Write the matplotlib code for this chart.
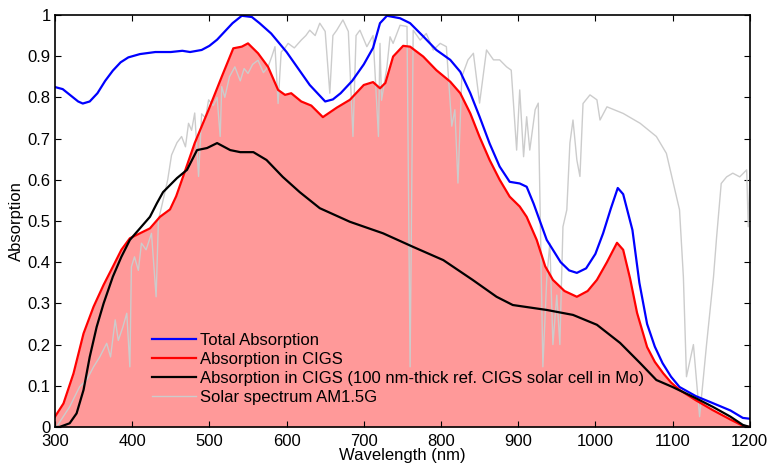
import numpy as np
import matplotlib.pyplot as plt

plt.rcParams['font.family'] = ['Liberation Sans', 'DejaVu Sans']

# Total absorption (blue)
wl_total = [300, 310, 320, 330, 336, 345, 355, 365, 375, 385, 395, 410, 430, 450, 465,
            475, 490, 500, 510, 520, 530, 542, 555, 565, 580, 600, 615, 630, 640, 650,
            660, 670, 685, 700, 712, 721, 730, 747, 760, 777, 794, 812, 825, 838, 850,
            863, 876, 889, 902, 911, 920, 937, 955, 966, 976, 988, 1000, 1010, 1020,
            1029, 1036, 1048, 1057, 1067, 1077, 1087, 1098, 1109, 1130, 1152, 1175,
            1191, 1200]
a_total = [0.825, 0.82, 0.805, 0.79, 0.785, 0.79, 0.81, 0.84, 0.865, 0.885, 0.897,
           0.905, 0.91, 0.91, 0.913, 0.91, 0.915, 0.925, 0.94, 0.96, 0.98, 0.998, 0.995,
           0.98, 0.955, 0.91, 0.87, 0.83, 0.81, 0.79, 0.795, 0.81, 0.84, 0.88, 0.92,
           0.98, 0.998, 0.992, 0.98, 0.948, 0.915, 0.891, 0.862, 0.81, 0.753, 0.688,
           0.632, 0.595, 0.591, 0.583, 0.542, 0.454, 0.40, 0.38, 0.374, 0.385, 0.42,
           0.47, 0.53, 0.58, 0.565, 0.478, 0.35, 0.25, 0.195, 0.155, 0.122, 0.097,
           0.075, 0.058, 0.04, 0.022, 0.02]

# Absorption in CIGS (red, filled)
wl_cigs = [300, 311, 324, 337, 350, 363, 375, 386, 397, 410, 423, 436, 449, 457, 466,
           481, 499, 516, 531, 542, 550, 563, 576, 589, 598, 606, 619, 632, 647, 665,
           682, 700, 712, 721, 728, 738, 751, 760, 777, 794, 812, 825, 838, 850, 863,
           876, 889, 902, 911, 924, 935, 945, 960, 976, 990, 1002, 1015, 1028, 1036,
           1045, 1054, 1067, 1077, 1088, 1098, 1109, 1130, 1152, 1175, 1191, 1200]
a_cigs = [0.025, 0.057, 0.13, 0.227, 0.292, 0.345, 0.389, 0.43, 0.458, 0.47, 0.482,
          0.51, 0.528, 0.56, 0.608, 0.689, 0.77, 0.85, 0.919, 0.923, 0.931, 0.907, 0.874,
          0.818, 0.806, 0.81, 0.79, 0.78, 0.752, 0.775, 0.794, 0.83, 0.837, 0.822, 0.835,
          0.899, 0.925, 0.923, 0.899, 0.866, 0.838, 0.81, 0.761, 0.704, 0.648, 0.6,
          0.559, 0.535, 0.51, 0.454, 0.39, 0.357, 0.33, 0.316, 0.33, 0.357, 0.40, 0.447,
          0.43, 0.36, 0.277, 0.194, 0.158, 0.13, 0.108, 0.09, 0.065, 0.041, 0.018, 0.003,
          0.0]

# Absorption in reference CIGS cell (black)
wl_ref = [300, 306, 319, 328, 337, 345, 354, 363, 375, 386, 397, 410, 423, 432, 440,
          458, 471, 484, 497, 510, 527, 540, 557, 574, 595, 617, 643, 682, 725, 764,
          803, 841, 872, 893, 937, 971, 1002, 1032, 1058, 1079, 1100, 1130, 1152, 1175,
          1191, 1200]
a_ref = [0.0, 0.0, 0.009, 0.033, 0.09, 0.17, 0.243, 0.30, 0.365, 0.413, 0.454, 0.482,
         0.51, 0.543, 0.57, 0.604, 0.624, 0.672, 0.677, 0.689, 0.672, 0.667, 0.667,
         0.648, 0.607, 0.57, 0.531, 0.498, 0.47, 0.437, 0.405, 0.357, 0.316, 0.296,
         0.284, 0.272, 0.248, 0.204, 0.155, 0.114, 0.097, 0.07, 0.049, 0.025, 0.005, 0.0]

# Solar spectrum AM1.5G (normalised, gray)
wl_sun = [300, 302, 319, 332, 341, 350, 358, 367, 372, 378, 382, 388, 393, 397, 399,
          403, 408, 412, 418, 425, 431, 434, 440, 446, 451, 458, 464, 469, 473, 477,
          481, 486, 490, 495, 499, 505, 510, 514, 516, 520, 526, 533, 540, 545, 550,
          556, 563, 570, 576, 581, 585, 589, 593, 598, 602, 610, 619, 625, 630, 637,
          643, 650, 656, 660, 665, 673, 680, 686, 690, 695, 704, 712, 719, 721, 723,
          730, 734, 738, 747, 756, 760, 764, 773, 781, 790, 799, 807, 814, 818, 822,
          827, 835, 842, 850, 859, 868, 876, 885, 891, 898, 902, 907, 911, 915, 922,
          926, 932, 937, 941, 945, 950, 954, 958, 963, 967, 971, 976, 980, 984, 993,
          1002, 1006, 1015, 1036, 1058, 1079, 1092, 1101, 1109, 1114, 1118, 1127, 1135,
          1144, 1153, 1157, 1163, 1170, 1178, 1187, 1196, 1198, 1200]
a_sun = [0.0, 0.0, 0.049, 0.098, 0.114, 0.146, 0.17, 0.203, 0.17, 0.26, 0.21, 0.243,
         0.276, 0.146, 0.389, 0.413, 0.38, 0.446, 0.43, 0.47, 0.316, 0.502, 0.55, 0.60,
         0.66, 0.69, 0.705, 0.68, 0.737, 0.72, 0.762, 0.608, 0.76, 0.75, 0.794, 0.78,
         0.80, 0.705, 0.826, 0.80, 0.85, 0.874, 0.84, 0.87, 0.858, 0.88, 0.89, 0.86,
         0.874, 0.90, 0.923, 0.785, 0.91, 0.92, 0.931, 0.92, 0.939, 0.95, 0.963, 0.95,
         0.98, 0.96, 0.81, 0.95, 0.963, 0.988, 0.96, 0.705, 0.95, 0.963, 0.923, 0.95,
         0.705, 0.931, 0.793, 0.874, 0.947, 0.931, 0.975, 0.972, 0.146, 0.963, 0.939,
         0.955, 0.915, 0.931, 0.923, 0.73, 0.77, 0.592, 0.85, 0.891, 0.907, 0.786,
         0.915, 0.891, 0.891, 0.874, 0.866, 0.672, 0.818, 0.656, 0.753, 0.672, 0.77,
         0.786, 0.146, 0.36, 0.446, 0.2, 0.32, 0.2, 0.486, 0.527, 0.689, 0.745, 0.648,
         0.608, 0.785, 0.806, 0.794, 0.745, 0.777, 0.761, 0.737, 0.705, 0.664, 0.591,
         0.527, 0.364, 0.122, 0.2, 0.025, 0.2, 0.364, 0.46, 0.591, 0.607, 0.616, 0.607,
         0.624, 0.486, 0.6]

fig = plt.figure(figsize=(7.69, 4.67), dpi=100)
ax = fig.add_axes([0.0715, 0.0857, 0.9035, 0.8823])

ax.fill_between(wl_cigs, a_cigs, 0, color='#ff9999', linewidth=0)
sun, = ax.plot(wl_sun, a_sun, color='#cccccc', lw=1, label='Solar spectrum AM1.5G')
tot, = ax.plot(wl_total, a_total, color='#0000ff', lw=1.6, label='Total Absorption')
cigs, = ax.plot(wl_cigs, a_cigs, color='#ff0000', lw=1.6, label='Absorption in CIGS')
ref, = ax.plot(wl_ref, a_ref, color='black', lw=1.6,
               label='Absorption in CIGS (100 nm-thick ref. CIGS solar cell in Mo)')

ax.set_xlim(300, 1200)
ax.set_ylim(0, 1)
ax.set_xticks(np.arange(300, 1201, 100))
ax.set_yticks(np.arange(0, 1.01, 0.1))
ax.set_yticklabels(['0', '0.1', '0.2', '0.3', '0.4', '0.5', '0.6', '0.7', '0.8', '0.9', '1'])
ax.tick_params(direction='in', top=True, right=True, labelsize=12, length=4, pad=3)
ax.tick_params(axis='x', pad=5)
for s in ax.spines.values():
    s.set_linewidth(1.2)
ax.set_xlabel('Wavelength (nm)', fontsize=12, labelpad=-1)
ax.set_ylabel('Absorption', fontsize=12, labelpad=3)

ax.legend(handles=[tot, cigs, ref, sun], loc='upper left', bbox_to_anchor=(0.14, 0.228),
          frameon=False, fontsize=12, handlelength=2.6, labelspacing=0.23,
          handletextpad=0.25, borderaxespad=0, borderpad=0)

fig.savefig('out.png', dpi=100)
